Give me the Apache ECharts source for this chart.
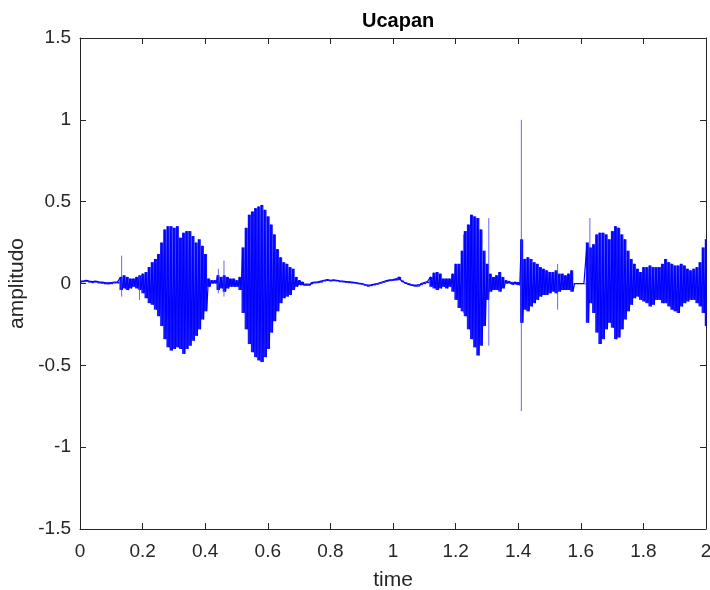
<!DOCTYPE html>
<html>
<head>
<meta charset="utf-8">
<script src="https://cdn.jsdelivr.net/npm/echarts@6/dist/echarts.min.js"></script>
<style>
html, body { margin: 0; padding: 0; background: #fff; }
#main { width: 710px; height: 590px; }
</style>
</head>
<body>
<div id="main"></div>
<script>
// envelope of the waveform, sampled every 0.01 s from 0 to 2
var times = [];
for (var k = 0; k <= 200; k++) times.push(+(k / 100).toFixed(2));

var upper = [
  0.015, 0.015, 0.02, 0.015, 0.012, 0.015, 0.01, 0.008, 0.005, 0.004,
  0.006, 0.008, 0.01, 0.04, 0.05, 0.04, 0.03, 0.03, 0.04, 0.05,
  0.06, 0.07, 0.10, 0.13, 0.15, 0.18, 0.25, 0.33, 0.35, 0.35,
  0.34, 0.35, 0.28, 0.31, 0.32, 0.32, 0.29, 0.25, 0.27, 0.23,
  0.18, 0.03, 0.02, 0.02, 0.05, 0.04, 0.05, 0.04, 0.03, 0.03,
  0.02, 0.04, 0.22, 0.34, 0.42, 0.44, 0.46, 0.47, 0.48, 0.45,
  0.41, 0.36, 0.30, 0.21, 0.16, 0.13, 0.12, 0.10, 0.09, 0.04,
  0.02, 0.01, 0.0, 0.0, 0.005, 0.008, 0.01, 0.015, 0.02, 0.024,
  0.02, 0.022, 0.02, 0.016, 0.014, 0.012, 0.01, 0.008, 0.006, 0.002,
  0.0, -0.006, -0.01, -0.008, -0.004, 0.0, 0.006, 0.012, 0.018, 0.022,
  0.024, 0.028, 0.04, 0.018, 0.008, 0.002, -0.004, -0.006, -0.004, 0.0,
  0.006, 0.012, 0.04, 0.066, 0.07, 0.06, 0.03, 0.03, 0.03, 0.06,
  0.12, 0.12, 0.20, 0.32, 0.36, 0.42, 0.41, 0.40, 0.33, 0.20,
  0.12, 0.06, 0.04, 0.05, 0.07, 0.04, 0.02, 0.015, 0.01, 0.01,
  0.008, 0.27, 0.15, 0.16, 0.15, 0.13, 0.12, 0.10, 0.09, 0.08,
  0.07, 0.07, 0.08, 0.06, 0.06, 0.05, 0.06, 0.08, 0.0, 0.0,
  0.0, 0.0, 0.25, 0.22, 0.24, 0.30, 0.31, 0.31, 0.30, 0.27,
  0.32, 0.35, 0.34, 0.30, 0.27, 0.20, 0.15, 0.12, 0.09, 0.07,
  0.10, 0.10, 0.11, 0.10, 0.10, 0.10, 0.12, 0.15, 0.13, 0.12,
  0.11, 0.11, 0.12, 0.11, 0.09, 0.08, 0.09, 0.10, 0.13, 0.22,
  0.27
];

var lower = [
  0.005, 0.008, 0.01, 0.005, 0.002, 0.005, 0.0, -0.002, -0.005, -0.006,
  -0.004, 0.0, 0.0, -0.04, -0.03, -0.04, -0.03, -0.02, -0.03, -0.04,
  -0.06, -0.09, -0.12, -0.13, -0.16, -0.20, -0.26, -0.34, -0.39, -0.41,
  -0.40, -0.39, -0.40, -0.43, -0.40, -0.38, -0.35, -0.32, -0.28, -0.22,
  -0.17, -0.02, 0.0, 0.0, -0.04, -0.03, -0.05, -0.03, -0.02, -0.02,
  -0.02, -0.04, -0.18, -0.28, -0.37, -0.42, -0.45, -0.47, -0.48, -0.45,
  -0.40, -0.30, -0.23, -0.17, -0.12, -0.09, -0.08, -0.07, -0.04, -0.02,
  -0.01, -0.01, -0.01, -0.01, -0.005, 0.0, 0.002, 0.005, 0.012, 0.015,
  0.012, 0.014, 0.012, 0.008, 0.006, 0.004, 0.002, 0.0, -0.002, -0.006,
  -0.008, -0.014, -0.02, -0.016, -0.012, -0.008, -0.002, 0.004, 0.01, 0.014,
  0.016, 0.018, 0.02, 0.008, -0.002, -0.008, -0.014, -0.016, -0.014, -0.01,
  -0.004, 0.002, -0.02, -0.03, -0.04, -0.03, -0.02, -0.03, -0.02, -0.05,
  -0.10, -0.15, -0.17, -0.20, -0.28, -0.34, -0.39, -0.44, -0.38, -0.26,
  -0.10, -0.05, -0.04, -0.04, -0.05, -0.03, 0.0, 0.0, -0.005, -0.005,
  -0.01, -0.24, -0.16, -0.17, -0.14, -0.12, -0.10, -0.08, -0.07, -0.07,
  -0.06, -0.05, -0.06, -0.05, -0.04, -0.04, -0.04, -0.05, -0.005, -0.005,
  -0.005, -0.005, -0.24, -0.12, -0.18, -0.30, -0.37, -0.34, -0.28, -0.24,
  -0.27, -0.34, -0.33, -0.28, -0.22, -0.17, -0.13, -0.09, -0.08, -0.10,
  -0.11, -0.12, -0.14, -0.13, -0.10, -0.10, -0.12, -0.12, -0.14, -0.16,
  -0.17, -0.18, -0.14, -0.12, -0.11, -0.10, -0.10, -0.12, -0.14, -0.18,
  -0.26
];

// isolated clicks / spikes
var spikeTimes = [0.133, 0.19, 0.442, 0.46, 1.225, 1.306, 1.41, 1.526, 1.629];
var spikeTops = [0.17, 0.05, 0.09, 0.14, 0.30, 0.40, 1.0, 0.12, 0.40];
var spikeBottoms = [-0.08, -0.10, -0.06, -0.08, -0.18, -0.38, -0.78, -0.16, -0.10];

var xTicks = [0, 0.2, 0.4, 0.6, 0.8, 1, 1.2, 1.4, 1.6, 1.8, 2];
var yTicks = [-1.5, -1, -0.5, 0, 0.5, 1, 1.5];

// zigzag between the envelopes, plus a filled band behind it
var wave = [];
var band = [];
for (var i = 0; i < times.length; i++) {
  wave.push([times[i], upper[i]]);
  if (i < times.length - 1) wave.push([times[i] + 0.005, lower[i]]);
  else wave.push([times[i], lower[i]]);
  band.push([times[i], lower[i], upper[i]]);
}

var axisColor = '#262626';
var font = 'Liberation Sans, Arial, sans-serif';

var series = [
  {
    type: 'custom',
    data: band,
    encode: { x: 0, y: [1, 2] },
    silent: true,
    clip: true,
    renderItem: function (params, api) {
      var t = api.value(0);
      var p0 = api.coord([t - 0.004, api.value(2)]);
      var p1 = api.coord([t + 0.006, api.value(1)]);
      return {
        type: 'rect',
        shape: { x: p0[0], y: p0[1], width: p1[0] - p0[0], height: Math.max(p1[1] - p0[1], 0) },
        style: { fill: '#0000ff', opacity: 0.9 }
      };
    }
  },
  {
    type: 'line',
    data: wave,
    symbol: 'none',
    lineStyle: { color: '#0000ff', width: 1.2 }
  }
];
for (var s = 0; s < spikeTimes.length; s++) {
  series.push({
    type: 'line',
    data: [[spikeTimes[s], spikeTops[s]], [spikeTimes[s], spikeBottoms[s]]],
    symbol: 'none',
    lineStyle: { color: '#3333ff', width: 1, opacity: 0.75 }
  });
}

var myChart = echarts.init(document.getElementById('main'));
var option = {
  backgroundColor: '#fff',
  animation: false,
  title: {
    text: 'Ucapan',
    left: 357,
    top: 6,
    textStyle: { fontFamily: font, fontSize: 20, fontWeight: 'bold', color: '#000' }
  },
  grid: { left: 80, right: 4, top: 38, bottom: 61, outerBoundsMode: 'none', containLabel: false },
  xAxis: [
    {
      type: 'value',
      min: 0, max: 2, interval: 0.2,
      name: 'time',
      nameLocation: 'middle',
      nameGap: 41,
      nameTextStyle: { fontFamily: font, fontSize: 21, color: axisColor },
      axisLine: { onZero: false, lineStyle: { color: axisColor } },
      axisTick: { inside: true, length: 6, lineStyle: { color: axisColor } },
      axisLabel: {
        fontFamily: font, fontSize: 19, color: axisColor, margin: 13,
        formatter: function (v) { return xTicks.indexOf(+v.toFixed(1)) >= 0 ? String(+v.toFixed(1)) : ''; }
      },
      splitLine: { show: false }
    },
    {
      type: 'value',
      position: 'top',
      min: 0, max: 2, interval: 0.2,
      axisLine: { onZero: false, lineStyle: { color: axisColor } },
      axisTick: { inside: true, length: 6, lineStyle: { color: axisColor } },
      axisLabel: { show: false },
      splitLine: { show: false }
    }
  ],
  yAxis: [
    {
      type: 'value',
      min: -1.5, max: 1.5, interval: 0.5,
      name: 'amplitudo',
      nameLocation: 'middle',
      nameGap: 45,
      nameTextStyle: { fontFamily: font, fontSize: 21, color: axisColor },
      axisLine: { show: true, onZero: false, lineStyle: { color: axisColor } },
      axisTick: { show: true, inside: true, length: 6, lineStyle: { color: axisColor } },
      axisLabel: {
        fontFamily: font, fontSize: 19, color: axisColor, margin: 9, padding: [4, 0, 0, 0],
        formatter: function (v) { return yTicks.indexOf(+v.toFixed(1)) >= 0 ? String(+v.toFixed(1)) : ''; }
      },
      splitLine: { show: false }
    },
    {
      type: 'value',
      position: 'right',
      min: -1.5, max: 1.5, interval: 0.5,
      axisLine: { show: true, onZero: false, lineStyle: { color: axisColor } },
      axisTick: { show: true, inside: true, length: 6, lineStyle: { color: axisColor } },
      axisLabel: { show: false },
      splitLine: { show: false }
    }
  ],
  series: series
};
myChart.setOption(option);
window.onresize = myChart.resize;
</script>
</body>
</html>
